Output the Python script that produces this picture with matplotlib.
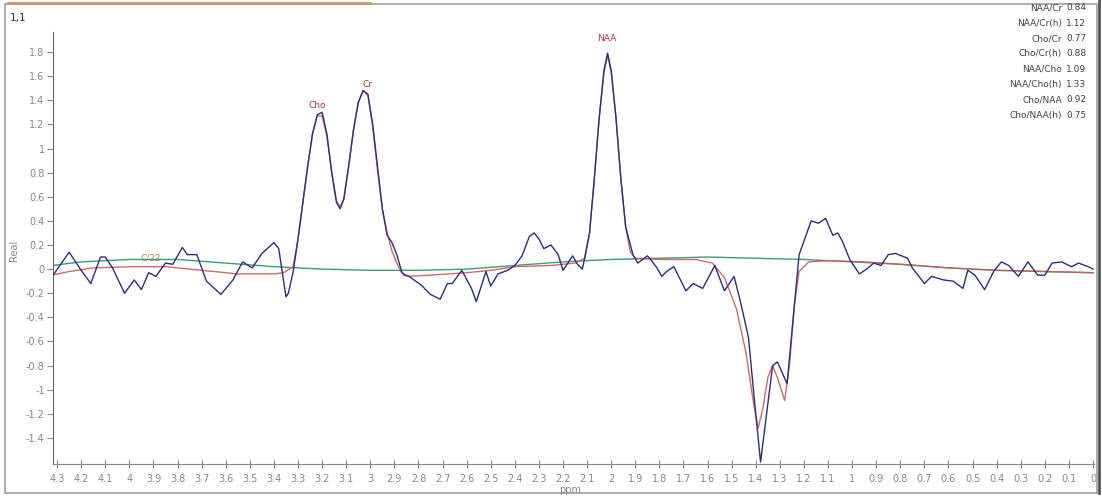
'''
MR spectrum with fit and baseline, ppm axis reversed
'''

# Imports
import matplotlib
matplotlib.use('Agg')
import matplotlib.pyplot as plt
from matplotlib.lines import Line2D
from matplotlib.patches import Rectangle

# Data
# raw spectrum (ppm, real)
raw_ppm = [4.32, 4.25, 4.20, 4.16, 4.12, 4.10, 4.07, 4.02, 3.98, 3.95, 3.92, 3.89, 3.85, 3.82,
           3.78, 3.76, 3.72, 3.68, 3.62, 3.57, 3.53, 3.49, 3.45, 3.40, 3.38, 3.35, 3.34, 3.32,
           3.30, 3.28, 3.26, 3.24, 3.22, 3.20, 3.18, 3.16, 3.14, 3.125, 3.11, 3.09, 3.07, 3.05,
           3.03, 3.01, 2.99, 2.97, 2.95, 2.93, 2.91, 2.89, 2.87, 2.86, 2.84, 2.79, 2.75, 2.71,
           2.68, 2.66, 2.62, 2.58, 2.56, 2.52, 2.50, 2.47, 2.43, 2.40, 2.37, 2.34, 2.32, 2.30,
           2.28, 2.25, 2.22, 2.20, 2.16, 2.14, 2.12, 2.11, 2.09, 2.07, 2.05, 2.03, 2.015, 2.00,
           1.98, 1.96, 1.94, 1.91, 1.89, 1.85, 1.84, 1.81, 1.79, 1.77, 1.74, 1.69, 1.66, 1.62,
           1.57, 1.53, 1.49, 1.46, 1.43, 1.405, 1.38, 1.33, 1.31, 1.27, 1.22, 1.17, 1.14, 1.11,
           1.08, 1.06, 1.04, 1.01, 0.97, 0.94, 0.91, 0.88, 0.85, 0.82, 0.77, 0.75, 0.70, 0.67,
           0.62, 0.58, 0.54, 0.52, 0.49, 0.45, 0.41, 0.38, 0.35, 0.31, 0.27, 0.23, 0.20, 0.17,
           0.13, 0.09, 0.06, 0.02, 0.00]
raw_val = [-0.06, 0.14, -0.01, -0.12, 0.10, 0.10, 0.01, -0.20, -0.09, -0.17, -0.03, -0.06, 0.05, 0.04,
           0.18, 0.12, 0.12, -0.10, -0.21, -0.09, 0.06, 0.01, 0.13, 0.22, 0.17, -0.23, -0.20, -0.02,
           0.25, 0.55, 0.85, 1.12, 1.28, 1.30, 1.12, 0.80, 0.55, 0.50, 0.58, 0.85, 1.15, 1.38,
           1.48, 1.45, 1.20, 0.85, 0.50, 0.28, 0.22, 0.12, -0.02, -0.05, -0.06, -0.13, -0.21, -0.25,
           -0.12, -0.12, -0.01, -0.16, -0.27, -0.02, -0.14, -0.04, -0.01, 0.03, 0.11, 0.27, 0.30, 0.25,
           0.17, 0.20, 0.12, -0.01, 0.11, 0.04, 0.00, 0.09, 0.30, 0.75, 1.25, 1.65, 1.79, 1.65,
           1.25, 0.75, 0.35, 0.12, 0.05, 0.11, 0.09, 0.01, -0.06, -0.02, 0.02, -0.18, -0.12, -0.16,
           0.03, -0.18, -0.06, -0.30, -0.57, -1.10, -1.60, -0.80, -0.77, -0.95, 0.12, 0.40, 0.38, 0.42,
           0.28, 0.30, 0.23, 0.08, -0.04, 0.00, 0.05, 0.03, 0.12, 0.13, 0.09, 0.01, -0.12, -0.06,
           -0.09, -0.10, -0.16, -0.01, -0.05, -0.17, -0.01, 0.06, 0.03, -0.06, 0.06, -0.05, -0.05, 0.05,
           0.06, 0.02, 0.05, 0.02, 0.00]

# fitted spectrum
fit_ppm = [4.32, 4.25, 4.15, 4.00, 3.85, 3.70, 3.55, 3.40, 3.36, 3.32, 3.30, 3.28, 3.26, 3.24,
           3.22, 3.20, 3.18, 3.16, 3.14, 3.125, 3.11, 3.09, 3.07, 3.05, 3.03, 3.01, 2.99, 2.97,
           2.95, 2.93, 2.91, 2.89, 2.87, 2.84, 2.75, 2.60, 2.50, 2.40, 2.25, 2.15, 2.11, 2.09,
           2.07, 2.05, 2.03, 2.015, 2.00, 1.98, 1.96, 1.94, 1.92, 1.90, 1.80, 1.65, 1.58, 1.53,
           1.48, 1.44, 1.41, 1.39, 1.37, 1.35, 1.33, 1.31, 1.28, 1.26, 1.24, 1.22, 1.18, 1.10,
           0.95, 0.80, 0.60, 0.40, 0.20, 0.00]
fit_val = [-0.05, -0.02, 0.01, 0.02, 0.02, -0.01, -0.04, -0.04, -0.03, 0.02, 0.25, 0.55, 0.85, 1.12,
           1.27, 1.27, 1.10, 0.80, 0.56, 0.52, 0.58, 0.85, 1.15, 1.38, 1.48, 1.44, 1.18, 0.82,
           0.50, 0.30, 0.15, 0.05, -0.03, -0.06, -0.05, -0.03, -0.01, 0.02, 0.03, 0.05, 0.09, 0.30,
           0.75, 1.25, 1.63, 1.77, 1.63, 1.25, 0.75, 0.35, 0.14, 0.09, 0.08, 0.08, 0.05, -0.07,
           -0.33, -0.70, -1.10, -1.32, -1.15, -0.90, -0.80, -0.90, -1.09, -0.80, -0.30, -0.02, 0.06, 0.07,
           0.06, 0.04, 0.01, -0.01, -0.02, -0.03]

# baseline
base_ppm = [4.32, 4.20, 4.00, 3.80, 3.60, 3.40, 3.20, 3.00, 2.80, 2.60, 2.40, 2.20, 2.00,
            1.80, 1.60, 1.40, 1.20, 1.00, 0.80, 0.60, 0.40, 0.20, 0.00]
base_val = [0.03, 0.06, 0.08, 0.08, 0.05, 0.02, 0.00, -0.01, -0.01, 0.00, 0.03, 0.06, 0.08,
            0.09, 0.10, 0.09, 0.08, 0.06, 0.04, 0.01, -0.01, -0.02, -0.03]

# peak labels
peak_names = ['Cho', 'Cr', 'NAA', 'C/22']
peak_ppm = [3.22, 3.01, 2.02, 3.91]
peak_val = [1.36, 1.53, 1.91, 0.09]

# ratios
ratio_names = ['NAA/Cr', 'NAA/Cr(h)', 'Cho/Cr', 'Cho/Cr(h)', 'NAA/Cho', 'NAA/Cho(h)', 'Cho/NAA', 'Cho/NAA(h)']
ratio_vals = ['0.84', '1.12', '0.77', '0.88', '1.09', '1.33', '0.92', '0.75']

x_ticks = [round(4.3 - 0.1 * i, 1) for i in range(44)]
y_ticks = [round(-1.4 + 0.2 * i, 1) for i in range(17)]

# Figure
W, H = 1102, 498
fig = plt.figure(figsize=(W / 100, H / 100), dpi=100)
ax = fig.add_axes([53 / W, 1 - 464 / H, (1094 - 53) / W, (464 - 32) / H])

ax.plot(base_ppm, base_val, color='#3f9a78', lw=1.0, zorder=2)
ax.plot(fit_ppm, fit_val, color='#cc5a5a', lw=1.0, alpha=0.9, zorder=3)
ax.plot(raw_ppm, raw_val, color='#2d2d80', lw=1.0, zorder=4)

for name, px, pv in zip(peak_names, peak_ppm, peak_val):
    c = '#b08040' if name == 'C/22' else '#a83a3a'
    ax.text(px, pv, name, color=c, fontsize=6.5, ha='center', va='center')

ax.set_xlim(4.317, -0.004)
ax.set_ylim(-1.616, 1.966)
ax.set_xticks(x_ticks)
ax.set_xticklabels([f'{v:g}' for v in x_ticks])
ax.set_yticks(y_ticks)
ax.set_yticklabels([f'{v:g}' for v in y_ticks])
ax.tick_params(axis='x', direction='inout', length=6, width=0.8, colors='#888888',
               labelsize=7, pad=4)
ax.tick_params(axis='y', direction='out', length=4, width=0.8, colors='#888888',
               labelsize=7, pad=2)
for s in ['top', 'right']:
    ax.spines[s].set_visible(False)
ax.spines['left'].set_color('#666666')
ax.spines['bottom'].set_color('#888888')

fig.text(14 / W, 1 - 250 / H, 'Real', rotation=90, color='#888888', fontsize=7,
         ha='center', va='center')
fig.text(570 / W, 1 - 490 / H, 'ppm', color='#888888', fontsize=7, ha='center', va='center')
fig.text(18 / W, 1 - 18 / H, '1,1', color='#333333', fontsize=7.5, ha='center', va='center')

for i, (n, v) in enumerate(zip(ratio_names, ratio_vals)):
    y = 1 - (8 + 15.3 * i) / H
    fig.text(1062 / W, y, n, color='#444444', fontsize=6.5, ha='right', va='center')
    fig.text(1066 / W, y, v, color='#444444', fontsize=6.5, ha='left', va='center')

# window frame
fig.patches.append(Rectangle((5 / W, 5 / H), 1092 / W, 489 / H, transform=fig.transFigure,
                             fill=False, edgecolor='#a0a0a0', lw=1.2))
fig.lines.append(Line2D([1099 / W, 1099 / W], [5 / H, 1], transform=fig.transFigure,
                        color='#555555', lw=2))
fig.lines.append(Line2D([8 / W, 370 / W], [1 - 3 / H, 1 - 3 / H], transform=fig.transFigure,
                        color='#c49a62', lw=2))

fig.savefig('out.png', dpi=100)
